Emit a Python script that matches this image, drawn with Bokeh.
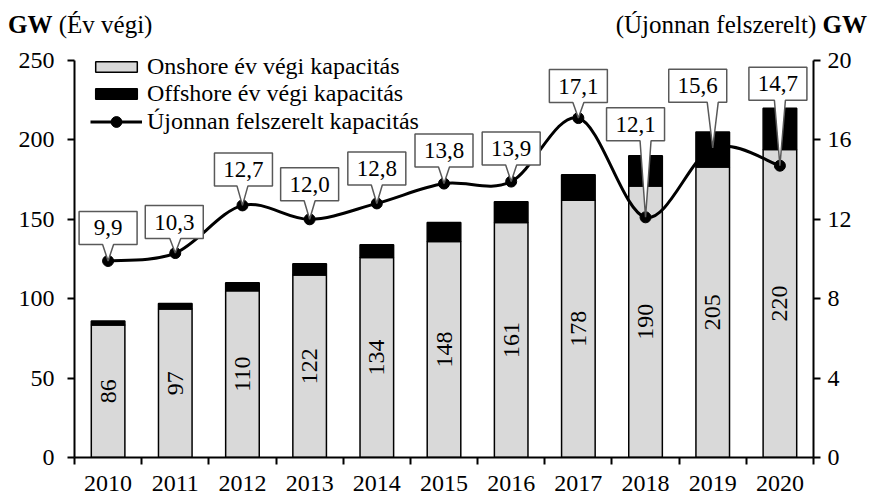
import numpy as np
from bokeh.plotting import figure
from bokeh.layouts import column
from bokeh.models import (Range1d, LinearAxis, FixedTicker, Legend, LegendItem, Div)
from bokeh.core.properties import value
from bokeh.embed import file_html
from bokeh.resources import INLINE

years = ["2010", "2011", "2012", "2013", "2014", "2015", "2016", "2017", "2018", "2019", "2020"]
onshore = [83.5, 93.5, 105, 115, 126, 136, 148, 162, 171, 183, 194]
offshore = [2.5, 3.5, 5, 7, 8, 12, 13, 16, 19, 22, 26]
total_labels = ["86", "97", "110", "122", "134", "148", "161", "178", "190", "205", "220"]
new_capacity = [9.9, 10.3, 12.7, 12.0, 12.8, 13.8, 13.9, 17.1, 12.1, 15.6, 14.7]
new_labels = ["9,9", "10,3", "12,7", "12,0", "12,8", "13,8", "13,9", "17,1", "12,1", "15,6", "14,7"]
left_ticks = [0, 50, 100, 150, 200, 250]
right_ticks = [0, 4, 8, 12, 16, 20]
left_title = ["GW", "(Év végi)"]
right_title = ["(Újonnan felszerelt)", "GW"]

# callout box offsets from their point, in screen pixels (style only)
callout_dx = [0, -1, 1, 0, 0, 0, 0, 0, -10, -15, -2]
callout_dy = [-33, -31, -36, -35, -35, -33, -33, -32, -93, -62, -82]

FONT = "Liberation Serif"
W = 874
HEAD = 45
FW, FH_AX = 739, 397          # frame width, height of the 0..max axis part
EXTRA = 15                    # frame space above the top ticks
FH = FH_AX + EXTRA
n = len(years)
idx = list(range(n))
PXX = FW / n
PXY = FH_AX / 20.0
LMAX, RMAX = 250.0, 20.0

# ---------- header with the axis titles ----------
span = ("position:absolute;top:10px;line-height:30px;white-space:nowrap;")
head_html = (
    f'<div style="position:relative;width:{W}px;height:{HEAD}px;'
    f"font-family:'{FONT}';font-size:25px;color:black;\">"
    f'<span style="{span}left:8px;"><b>{left_title[0]}</b> {left_title[1]}</span>'
    f'<span style="{span}right:7px;">{right_title[0]} <b>{right_title[1]}</b></span>'
    '</div>'
)
h = Div(text=head_html, width=W, height=HEAD, margin=0)

# ---------- main chart ----------
p = figure(frame_width=FW, frame_height=FH, min_border_left=74, min_border_right=61,
           min_border_top=0, min_border_bottom=38, output_backend="svg",
           toolbar_location=None, title=None,
           x_range=Range1d(-0.5, n - 0.5), y_range=Range1d(0, LMAX * FH / FH_AX))
p.extra_y_ranges = {"right": Range1d(0, RMAX * FH / FH_AX)}
p.outline_line_color = None
p.xgrid.visible = False
p.ygrid.visible = False

# bars
tops = [a + b for a, b in zip(onshore, offshore)]
on_r = p.vbar(x=idx, bottom=0, top=onshore, width=0.5, fill_color="#d9d9d9",
              line_color="black", line_width=1.5)
off_r = p.vbar(x=idx, bottom=onshore, top=tops, width=0.5, fill_color="black",
               line_color="black", line_width=1.5)
p.text(x=idx, y=[o / 2 for o in onshore], text=total_labels, angle=np.pi / 2,
       text_align="center", text_baseline="middle", text_font=value(FONT),
       text_font_size="24px", text_color="black")

# smoothed line (Bezier segments through the data points)
xs = np.array(idx, dtype=float)
ys = np.array(new_capacity, dtype=float)
x0, y0, x1, y1, cx0, cy0, cx1, cy1 = [], [], [], [], [], [], [], []
for i in range(n - 1):
    pxm = xs[i - 1] if i > 0 else xs[i]
    pym = ys[i - 1] if i > 0 else ys[i]
    pxp = xs[i + 2] if i + 2 < n else xs[i + 1]
    pyp = ys[i + 2] if i + 2 < n else ys[i + 1]
    x0.append(xs[i]); y0.append(ys[i]); x1.append(xs[i + 1]); y1.append(ys[i + 1])
    cx0.append(xs[i] + (xs[i + 1] - pxm) / 6); cy0.append(ys[i] + (ys[i + 1] - pym) / 6)
    cx1.append(xs[i + 1] - (pxp - xs[i]) / 6); cy1.append(ys[i + 1] - (pyp - ys[i]) / 6)
p.bezier(x0=x0, y0=y0, x1=x1, y1=y1, cx0=cx0, cy0=cy0, cx1=cx1, cy1=cy1,
         line_color="black", line_width=3, y_range_name="right")
leg_line = p.line(x=idx[:1], y=new_capacity[:1], line_color="black", line_width=3,
                  y_range_name="right")
sc_r = p.scatter(x=idx, y=new_capacity, size=11, fill_color="black", line_color="black",
                 y_range_name="right")

# callouts
HW, HH, TB = 29, 16.5, 5.5
pxs, pys, bx, by = [], [], [], []
for i in range(n):
    dx, dy = callout_dx[i], -callout_dy[i]
    rx, ry = -dx, -dy  # point relative to box centre (screen-up)
    bc = min(max(rx, -HW + 8), HW - 8)
    pts = [(-HW, HH), (HW, HH), (HW, -HH), (bc + TB, -HH), (rx, ry), (bc - TB, -HH), (-HW, -HH)]
    pxs.append([xs[i] + (dx + a) / PXX for a, b in pts])
    pys.append([ys[i] + (dy + b) / PXY for a, b in pts])
    bx.append(xs[i] + dx / PXX)
    by.append(ys[i] + dy / PXY)
p.patches(xs=pxs, ys=pys, fill_color="white", line_color="#595959", line_width=1.5,
          y_range_name="right")
p.text(x=bx, y=by, text=new_labels, text_align="center", text_baseline="middle",
       text_font=value(FONT), text_font_size="23px", text_color="black",
       y_range_name="right")

# axes
xa = p.xaxis[0]
xa.ticker = FixedTicker(ticks=idx, minor_ticks=[i - 0.5 for i in range(n + 1)])
xa.major_label_overrides = {i: years[i] for i in idx}
xa.major_tick_out = 0
xa.major_tick_in = 0
xa.minor_tick_out = 7
xa.minor_tick_in = 0
xa.minor_tick_line_color = "black"
xa.minor_tick_line_width = 2
xa.axis_line_width = 2
xa.axis_line_color = "black"
xa.major_label_standoff = 11
xa.major_label_text_font = FONT
xa.major_label_text_font_size = "24px"
xa.major_label_text_color = "black"

ya = p.yaxis[0]
ya.ticker = FixedTicker(ticks=left_ticks)
ya.bounds = (0, LMAX)
ya.major_tick_out = 7
ya.major_tick_in = 0
ya.major_tick_line_width = 2
ya.major_tick_line_color = "black"
ya.minor_tick_line_color = None
ya.axis_line_width = 2
ya.axis_line_color = "black"
ya.major_label_standoff = 13
ya.major_label_text_font = FONT
ya.major_label_text_font_size = "24px"
ya.major_label_text_color = "black"

ra = LinearAxis(y_range_name="right", ticker=FixedTicker(ticks=right_ticks), bounds=(0, RMAX))
ra.major_tick_out = 7
ra.major_tick_in = 0
ra.major_tick_line_width = 2
ra.major_tick_line_color = "black"
ra.minor_tick_line_color = None
ra.axis_line_width = 2
ra.axis_line_color = "black"
ra.major_label_standoff = 7
ra.major_label_text_font = FONT
ra.major_label_text_font_size = "24px"
ra.major_label_text_color = "black"
p.add_layout(ra, "right")

# legends (bars, then the line item with a taller glyph box for the marker)
leg_style = dict(padding=0, margin=0, spacing=0, glyph_width=52, label_standoff=5,
                 label_text_font=FONT, label_text_font_size="24px", label_text_color="black",
                 border_line_alpha=0, background_fill_alpha=0)
legend1 = Legend(items=[
    LegendItem(label="Onshore év végi kapacitás", renderers=[on_r]),
    LegendItem(label="Offshore év végi kapacitás", renderers=[off_r]),
], location=(16, FH - 62), glyph_height=13, **leg_style)
legend2 = Legend(items=[
    LegendItem(label="Újonnan felszerelt kapacitás", renderers=[leg_line, sc_r]),
], location=(16, FH - 89.5), glyph_height=27, **leg_style)
p.add_layout(legend1, "center")
p.add_layout(legend2, "center")

open("out.html", "w").write(file_html(column(h, p, spacing=0), INLINE))
